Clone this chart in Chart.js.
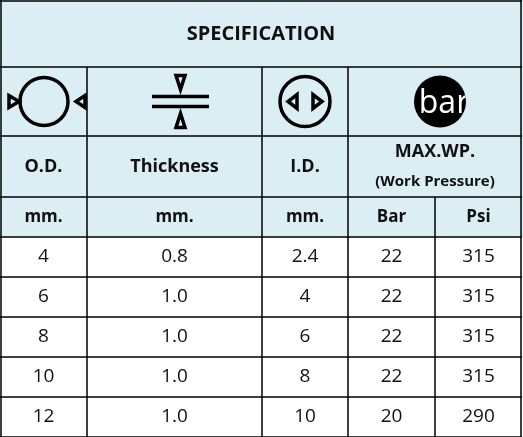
<!DOCTYPE html>
<html><head><meta charset="utf-8">
<script src="https://cdn.jsdelivr.net/npm/chart.js@4"></script>
<style>html,body{margin:0;padding:0;background:#fff}#w{width:523px;height:437px}</style>
</head><body><div id="w"><canvas id="c"></canvas></div>
<script>
const title = "SPECIFICATION";
const headers = ["O.D.", "Thickness", "I.D.", "MAX.WP."];
const subHeader = "(Work Pressure)";
const units = ["mm.", "mm.", "mm.", "Bar", "Psi"];
const od = ["4", "6", "8", "10", "12"];
const thickness = ["0.8", "1.0", "1.0", "1.0", "1.0"];
const idv = ["2.4", "4", "6", "8", "10"];
const bar = ["22", "22", "22", "22", "20"];
const psi = ["315", "315", "315", "315", "290"];

const colX = [0, 87, 262, 348, 435, 522];
const rowY = [0, 67, 136, 197, 237, 277, 317, 357, 397, 437];
const BG = "#daeef3";
const FONT = "'Open Sans', sans-serif";

const tablePlugin = {
  id: 'table',
  afterDraw(chart) {
    const ctx = chart.ctx, xs = chart.scales.x, ys = chart.scales.y;
    const X = v => xs.getPixelForValue(v), Y = v => ys.getPixelForValue(v);
    ctx.save();
    ctx.fillStyle = "#fff"; ctx.fillRect(X(0), Y(0), X(523) - X(0), Y(437) - Y(0));
    ctx.fillStyle = BG; ctx.fillRect(X(0), Y(0), X(523) - X(0), Y(rowY[4]) - Y(0));
    ctx.textAlign = "center"; ctx.textBaseline = "middle"; ctx.fillStyle = "#111";
    const cx = i => (X(colX[i]) + X(colX[i + 1])) / 2;
    const cy = r => (Y(rowY[r]) + Y(rowY[r + 1])) / 2;
    ctx.font = "bold 20px " + FONT;
    ctx.fillText(title, X(261), cy(0) + 1);
    ctx.font = "bold 18px " + FONT;
    ctx.fillText(headers[0], cx(0), cy(2));
    ctx.fillText(headers[1], cx(1), cy(2));
    ctx.fillText(headers[2], cx(2), cy(2));
    ctx.fillText(headers[3], (X(colX[3]) + X(colX[5])) / 2, Y(152));
    ctx.font = "bold 15px " + FONT;
    ctx.fillText(subHeader, (X(colX[3]) + X(colX[5])) / 2, Y(182));
    ctx.font = "bold 17px " + FONT;
    units.forEach((u, i) => ctx.fillText(u, cx(i), cy(3)));
    ctx.font = "19px " + FONT;
    const cols = [od, thickness, idv, bar, psi];
    for (let r = 0; r < od.length; r++) cols.forEach((c, i) => ctx.fillText(c[r], cx(i), cy(4 + r)));
    // icons
    ctx.strokeStyle = "#000"; ctx.fillStyle = "#000";
    const tri = (pts) => { ctx.beginPath(); ctx.moveTo(pts[0], pts[1]); ctx.lineTo(pts[2], pts[3]); ctx.lineTo(pts[4], pts[5]); ctx.closePath(); ctx.lineWidth = 3.5; ctx.stroke(); };
    const iy = cy(1);
    // OD
    ctx.lineWidth = 3.5; ctx.beginPath(); ctx.arc(X(44), iy, 24, 0, Math.PI * 2); ctx.stroke();
    tri([X(9), iy - 6, X(9), iy + 6, X(19), iy]);
    tri([X(85), iy - 6, X(85), iy + 6, X(76), iy]);
    // thickness
    ctx.lineWidth = 3.5;
    ctx.beginPath(); ctx.moveTo(X(152), iy - 5); ctx.lineTo(X(209), iy - 5); ctx.moveTo(X(152), iy + 5); ctx.lineTo(X(209), iy + 5); ctx.stroke();
    tri([X(176), iy - 26, X(185), iy - 26, X(180.5), iy - 12]);
    tri([X(176), iy + 26, X(185), iy + 26, X(180.5), iy + 12]);
    // ID
    ctx.lineWidth = 3.5; ctx.beginPath(); ctx.arc(X(305), iy, 25, 0, Math.PI * 2); ctx.stroke();
    tri([X(297), iy - 7, X(297), iy + 7, X(288), iy]);
    tri([X(313), iy - 7, X(313), iy + 7, X(322), iy]);
    // bar
    ctx.beginPath(); ctx.arc(X(440), iy, 26, 0, Math.PI * 2); ctx.fill();
    ctx.save(); ctx.beginPath(); ctx.arc(X(440), iy, 26, 0, Math.PI * 2); ctx.clip();
    ctx.fillStyle = "#fff"; ctx.font = "32px " + FONT; ctx.fillText("bar", X(444), iy + 2);
    ctx.restore();
    // grid
    ctx.strokeStyle = "#000"; ctx.lineWidth = 1.5;
    ctx.beginPath();
    rowY.forEach(y => { ctx.moveTo(X(0), Y(y) + (y === 0 ? 1 : 0)); ctx.lineTo(X(522), Y(y) + (y === 0 ? 1 : 0)); });
    ctx.moveTo(X(1), Y(0)); ctx.lineTo(X(1), Y(437));
    ctx.moveTo(X(521), Y(0)); ctx.lineTo(X(521), Y(437));
    [1, 2, 3].forEach(i => { ctx.moveTo(X(colX[i]), Y(rowY[1])); ctx.lineTo(X(colX[i]), Y(437)); });
    ctx.moveTo(X(colX[4]), Y(rowY[3])); ctx.lineTo(X(colX[4]), Y(437));
    ctx.stroke();
    ctx.restore();
  }
};

new Chart(document.getElementById('c'), {
  type: 'scatter',
  data: { datasets: [{ data: [] }] },
  options: {
    responsive: true, maintainAspectRatio: false, animation: false,
    layout: { padding: 0 },
    plugins: { legend: { display: false }, tooltip: { enabled: false } },
    scales: {
      x: { type: 'linear', min: 0, max: 523, display: false },
      y: { type: 'linear', min: 0, max: 437, reverse: true, display: false }
    }
  },
  plugins: [tablePlugin]
});
</script></body></html>
